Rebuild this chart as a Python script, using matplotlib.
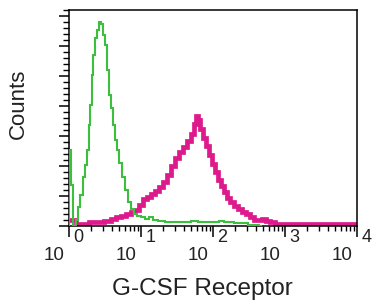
import matplotlib
matplotlib.use("Agg")
import matplotlib.pyplot as plt
from matplotlib.ticker import LogLocator, MultipleLocator, NullFormatter
import numpy as np

# histogram channels in decades (log10 of intensity) and counts
isotype_decades = [0.0, 0.012, 0.045, 0.069, 0.111, 0.139, 0.167, 0.208, 0.236, 0.264,
                   0.285, 0.306, 0.326, 0.347, 0.375, 0.403, 0.431, 0.458, 0.486, 0.514,
                   0.542, 0.569, 0.597, 0.625, 0.653, 0.681, 0.708, 0.75, 0.792, 0.833,
                   0.875, 0.917, 0.972, 1.028, 1.083, 1.139, 1.194, 1.264, 1.403, 1.611,
                   1.764, 1.819, 2.028, 2.125, 2.181, 2.375, 2.583, 2.681]
isotype_counts = [0.0, 2.53, 1.37, 0.0, 0.2, 0.63, 1.03, 1.63, 2.03, 2.53,
                  3.37, 4.03, 5.03, 5.7, 6.27, 6.53, 6.8, 6.73, 6.37, 6.03,
                  5.2, 4.37, 3.93, 3.37, 2.87, 2.53, 2.1, 1.63, 1.2, 0.8,
                  0.57, 0.4, 0.33, 0.3, 0.23, 0.3, 0.2, 0.17, 0.13, 0.12,
                  0.18, 0.12, 0.12, 0.17, 0.12, 0.1, 0.03, 0.0]

gcsfr_decades = [0.0, 0.069, 0.125, 0.236, 0.319, 0.431, 0.542, 0.611, 0.681, 0.75,
                 0.819, 0.889, 0.944, 1.0, 1.056, 1.111, 1.167, 1.222, 1.278, 1.333,
                 1.389, 1.444, 1.5, 1.556, 1.611, 1.667, 1.708, 1.75, 1.778, 1.806,
                 1.833, 1.875, 1.917, 1.958, 2.0, 2.042, 2.083, 2.125, 2.167, 2.208,
                 2.264, 2.319, 2.375, 2.431, 2.486, 2.542, 2.597, 2.653, 2.708, 2.764,
                 2.819, 2.903, 4.0]
gcsfr_counts = [0.2, 0.2, 0.067, 0.067, 0.133, 0.133, 0.167, 0.233, 0.3, 0.333,
                0.4, 0.467, 0.533, 0.7, 0.9, 0.967, 1.067, 1.167, 1.3, 1.467,
                1.7, 2.0, 2.267, 2.467, 2.633, 2.833, 3.067, 3.4, 3.667, 3.533,
                3.233, 2.933, 2.667, 2.367, 2.067, 1.8, 1.533, 1.333, 1.133, 0.933,
                0.8, 0.667, 0.567, 0.467, 0.4, 0.3, 0.2, 0.2, 0.233, 0.167,
                0.133, 0.083, 0.083]

decades = [0, 1, 2, 3, 4]

label_font = ['Liberation Sans', 'DejaVu Sans']

fig = plt.figure(figsize=(3.73, 3.05), dpi=100)
ax = fig.add_axes([69 / 373, 79 / 305, 288 / 373, 216 / 305])

ax.plot(10 ** np.array(isotype_decades), isotype_counts, drawstyle='steps-mid',
        color='#3cbf3c', linewidth=1.5, zorder=3,
        solid_joinstyle='miter', solid_capstyle='butt')
ax.plot(10 ** np.array(gcsfr_decades), gcsfr_counts, drawstyle='steps-mid',
        color='#dd1a8c', linewidth=3.4, zorder=2,
        solid_joinstyle='miter', solid_capstyle='butt')

ax.set_xscale('log')
ax.set_xlim(1, 1e4)
ax.set_ylim(0, 7.2)

for side in ax.spines.values():
    side.set_linewidth(1.1)
    side.set_color('black')

ax.xaxis.set_major_locator(LogLocator(base=10, numticks=10))
ax.xaxis.set_minor_locator(LogLocator(base=10, subs=np.arange(2, 10), numticks=10))
ax.xaxis.set_major_formatter(NullFormatter())
ax.xaxis.set_minor_formatter(NullFormatter())
ax.yaxis.set_major_locator(MultipleLocator(1))
ax.yaxis.set_minor_locator(MultipleLocator(0.2))
ax.yaxis.set_major_formatter(NullFormatter())
ax.tick_params(axis='x', which='major', direction='out', length=8, width=1.1)
ax.tick_params(axis='x', which='minor', direction='out', length=3.5, width=1.0)
ax.tick_params(axis='y', which='major', direction='out', length=7, width=1.1)
ax.tick_params(axis='y', which='minor', direction='out', length=4, width=1.0)

# "10" with the exponent set off to the upper right, like the cytometer software
for d in decades:
    ax.annotate('10', xy=(10 ** d, 0), xycoords=('data', 'axes fraction'),
                xytext=(-3, -21), textcoords='offset points',
                ha='right', va='center', fontsize=13.5, family=label_font, color='#222222',
                annotation_clip=False)
    ax.annotate(str(d), xy=(10 ** d, 0), xycoords=('data', 'axes fraction'),
                xytext=(3, -8), textcoords='offset points',
                ha='left', va='center', fontsize=13, family=label_font, color='#222222',
                annotation_clip=False)

fig.text(202 / 373, 16 / 305, 'G-CSF Receptor', ha='center', va='center',
         fontsize=17.5, family=label_font, color='#222222')
fig.text(18 / 373, 201 / 305, 'Counts', ha='center', va='center', rotation=90,
         fontsize=16, family=label_font, color='#222222')

fig.savefig('out.png', dpi=100)
